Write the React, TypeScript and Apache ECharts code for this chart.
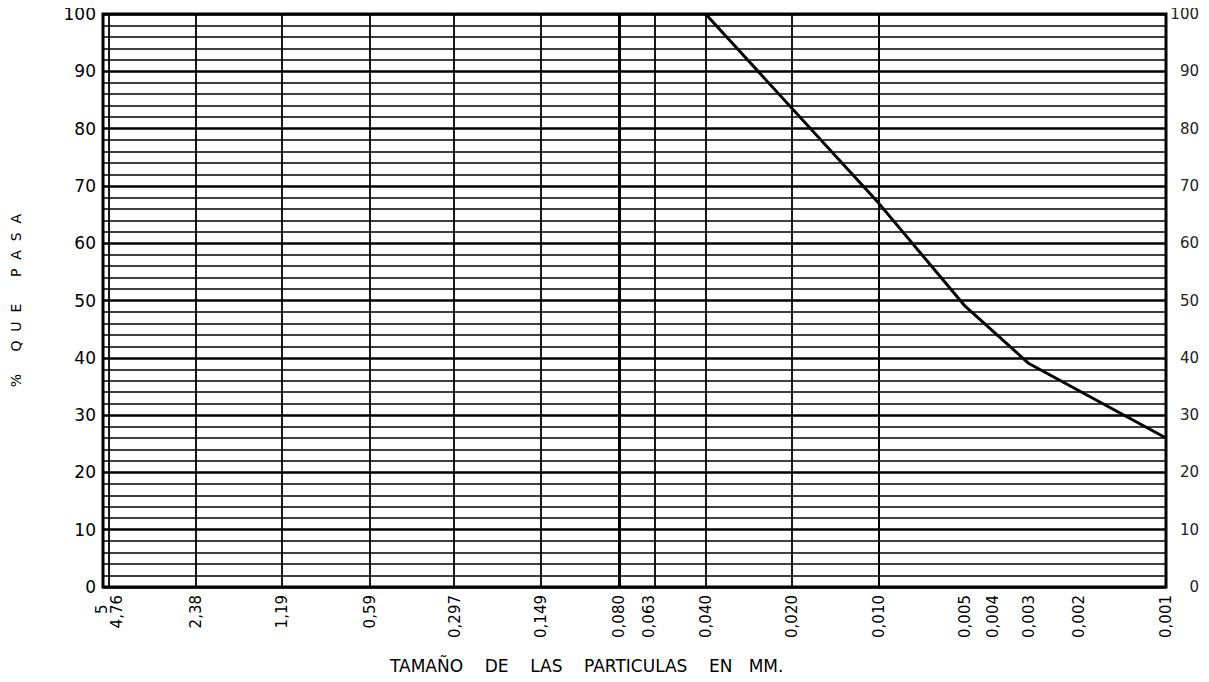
import { useEffect, useRef } from 'react';
import * as echarts from 'echarts';

// Particle-size ticks (mm) and their printed labels
const sizeTicks = [5, 4.76, 2.38, 1.19, 0.59, 0.297, 0.149, 0.08, 0.063, 0.04, 0.02, 0.01, 0.005, 0.004, 0.003, 0.002, 0.001];
const sizeLabels = ['5', '4,76', '2,38', '1,19', '0,59', '0,297', '0,149', '0,080', '0,063', '0,040', '0,020', '0,010', '0,005', '0,004', '0,003', '0,002', '0,001'];

// Grading curve: particle size (mm) vs % passing
const curveSizes = [0.04, 0.01, 0.005, 0.003, 0.001];
const curvePassing = [100, 67, 49, 39, 26];

const yTitle = '%     Q  U  E      P  A  S  A';
const xTitle = 'TAMAÑO    DE    LAS    PARTICULAS    EN   MM.';

const FONT = 'DejaVu Sans';

function labelFor(v: number): string {
  let best = 0;
  let bestD = Infinity;
  sizeTicks.forEach((t, i) => {
    const d = Math.abs(Math.log(v) - Math.log(t));
    if (d < bestD) { bestD = d; best = i; }
  });
  // "5" and "4,76" sit side by side at the left edge
  if (sizeTicks[best] === 5) return '';
  if (sizeTicks[best] === 4.76) return sizeLabels[0] + '\u00a0\u00a0\n' + sizeLabels[1];
  return sizeLabels[best];
}

export default function App() {
  const ref = useRef<HTMLDivElement>(null);
  useEffect(() => {
    if (!ref.current) return;
    const chart = echarts.init(ref.current, null, { renderer: 'svg' });
    const lineData = curveSizes.map((s, i) => [s, curvePassing[i]]);
    const vLines = sizeTicks.filter((t) => t !== 5 && t !== 0.001).map((t) => ({
      xAxis: t,
      lineStyle: { width: t === 0.08 ? 3 : 1.8 },
    }));
    chart.setOption({
      animation: false,
      backgroundColor: '#fff',
      grid: {
        left: 103, right: 43, top: 14, bottom: 95,
        show: true, borderColor: '#000', borderWidth: 3,
      },
      xAxis: {
        type: 'log', logBase: 10, min: 0.001, max: 5, inverse: true,
        axisLine: { show: false },
        axisTick: { show: false },
        splitLine: { show: false },
        axisLabel: {
          customValues: sizeTicks,
          rotate: 90, margin: 8,
          fontFamily: FONT, fontSize: 15, color: '#000', lineHeight: 15,
          formatter: (v: number) => labelFor(v),
        },
      },
      yAxis: [
        {
          type: 'value', min: 0, max: 100, interval: 10,
          name: yTitle, nameLocation: 'middle', nameGap: 80, nameRotate: 90,
          nameTextStyle: { fontFamily: FONT, fontSize: 14, color: '#000' },
          axisLine: { show: false }, axisTick: { show: false },
          axisLabel: { fontFamily: FONT, fontSize: 17, color: '#000', margin: 7 },
          splitLine: { show: true, lineStyle: { color: '#000', width: 2.5 } },
          minorTick: { show: false, splitNumber: 5 },
          minorSplitLine: { show: true, lineStyle: { color: '#000', width: 1.5 } },
        },
        {
          type: 'value', min: 0, max: 100, interval: 10, position: 'right',
          axisLine: { show: false }, axisTick: { show: false },
          axisLabel: { fontFamily: FONT, fontSize: 15, color: '#222', margin: 33, align: 'right' },
          splitLine: { show: false },
        },
      ],
      graphic: [
        {
          type: 'text', left: 390, top: 657,
          style: { text: xTitle, fontFamily: FONT, fontSize: 17, fill: '#000' },
        },
      ],
      series: [
        {
          type: 'line', data: lineData, symbol: 'none', z: 5,
          lineStyle: { color: '#000', width: 3 },
          markLine: {
            silent: true, symbol: ['none', 'none'], label: { show: false },
            lineStyle: { color: '#000', type: 'solid', width: 1.8 },
            data: vLines,
          },
        },
      ],
    });
    return () => chart.dispose();
  }, []);
  return <div ref={ref} style={{ width: 1209, height: 682, margin: -8 }} />;
}
